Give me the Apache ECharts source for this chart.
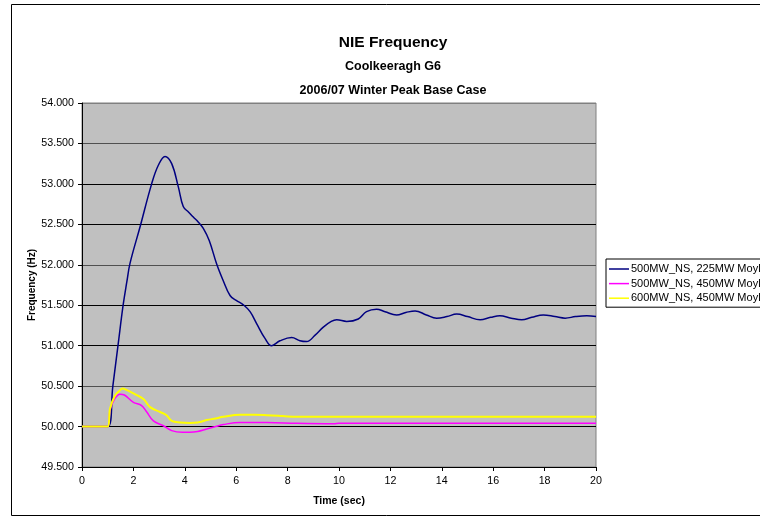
<!DOCTYPE html>
<html>
<head>
<meta charset="utf-8">
<script src="https://cdn.jsdelivr.net/npm/echarts@6/dist/echarts.min.js"></script>
<style>
html,body{margin:0;padding:0;background:#fff;}
#chart{width:760px;height:517px;}
</style>
</head>
<body>
<div id="chart"></div>
<script>
// ---- data ----
const seriesNames = ["500MW_NS, 225MW Moyle", "500MW_NS, 450MW Moyle", "600MW_NS, 450MW Moyle"];

const blueT = [0, 1.0, 1.2, 1.4, 1.6, 1.75, 1.87, 2.26, 2.71, 2.97, 3.23, 3.49, 3.75, 3.94, 4.15, 4.33, 4.52, 4.72, 4.95, 5.24, 5.5, 5.76, 6.0, 6.3, 6.54, 6.8, 7.12, 7.38, 7.7, 8.16, 8.48, 8.74, 9.07, 9.39, 9.7, 9.91, 10.3, 10.75, 11.07, 11.46, 11.79, 12.24, 12.6, 12.96, 13.4, 13.8, 14.2, 14.58, 15.0, 15.49, 15.9, 16.26, 16.7, 17.11, 17.5, 17.95, 18.4, 18.8, 19.2, 19.64, 20];
const blueF = [50.0, 50.0, 50.5, 51.0, 51.5, 51.8, 52.02, 52.47, 53.0, 53.23, 53.34, 53.25, 52.96, 52.72, 52.65, 52.59, 52.53, 52.45, 52.3, 52.01, 51.8, 51.62, 51.56, 51.5, 51.42, 51.27, 51.09, 51.0, 51.06, 51.1, 51.06, 51.05, 51.13, 51.23, 51.3, 51.32, 51.3, 51.33, 51.42, 51.45, 51.42, 51.38, 51.41, 51.43, 51.38, 51.34, 51.36, 51.39, 51.36, 51.32, 51.35, 51.37, 51.34, 51.32, 51.35, 51.38, 51.36, 51.34, 51.36, 51.37, 51.36];

const magT = [0, 1.0, 1.09, 1.25, 1.48, 1.65, 2.0, 2.32, 2.52, 2.78, 3.17, 3.49, 3.9, 4.2, 4.5, 4.85, 5.2, 5.5, 6.15, 7.19, 8.35, 9.8, 10, 12, 14, 16, 18, 20];
const magF = [50.0, 50.0, 50.2, 50.33, 50.40, 50.39, 50.30, 50.26, 50.18, 50.07, 50.01, 49.95, 49.93, 49.93, 49.94, 49.97, 50.0, 50.025, 50.05, 50.05, 50.04, 50.035, 50.04, 50.04, 50.04, 50.04, 50.04, 50.04];

const yelT = [0, 1.0, 1.09, 1.28, 1.45, 1.58, 1.75, 2.06, 2.39, 2.65, 3.04, 3.29, 3.49, 3.81, 4.2, 4.5, 4.85, 5.2, 5.5, 6.15, 6.7, 7.19, 7.8, 8.35, 10, 12, 14, 16, 18, 20];
const yelF = [50.0, 50.0, 50.22, 50.38, 50.44, 50.47, 50.45, 50.40, 50.34, 50.24, 50.18, 50.14, 50.07, 50.05, 50.045, 50.05, 50.08, 50.1, 50.12, 50.145, 50.145, 50.14, 50.13, 50.12, 50.12, 50.12, 50.12, 50.12, 50.12, 50.12];

const yMin = 49.5, yMax = 54.0, yStep = 0.5;
const xMin = 0, xMax = 20, xStep = 2;

function pairs(t, f) { return t.map((v, i) => [v, f[i]]); }

const FONT = '"Liberation Sans", Arial, sans-serif';
const chart = echarts.init(document.getElementById('chart'), null, {renderer: 'canvas'});

const option = {
  animation: false,
  backgroundColor: '#fff',
  textStyle: {fontFamily: FONT},
  graphic: [{
    type: 'rect', silent: true, z: -1,
    shape: {x: 11.5, y: 4.5, width: 800, height: 511},
    style: {fill: 'none', stroke: '#000', lineWidth: 1}
  }],
  title: [
    {text: 'NIE Frequency', left: 393, top: 34, textAlign: 'center', padding: 0,
     textStyle: {fontFamily: FONT, fontSize: 15.5, fontWeight: 'bold', color: '#000', lineHeight: 17}},
    {text: 'Coolkeeragh G6', left: 393, top: 60, textAlign: 'center', padding: 0,
     textStyle: {fontFamily: FONT, fontSize: 12.5, fontWeight: 'bold', color: '#000', lineHeight: 14}},
    {text: '2006/07 Winter Peak Base Case', left: 393, top: 84, textAlign: 'center', padding: 0,
     textStyle: {fontFamily: FONT, fontSize: 12.5, fontWeight: 'bold', color: '#000', lineHeight: 14}}
  ],
  legend: {
    orient: 'vertical', left: 606, top: 259,
    padding: [4, 40, 3, 3],
    itemGap: 2.6, itemWidth: 20, itemHeight: 1.5,
    icon: 'rect',
    borderColor: '#000', borderWidth: 1, backgroundColor: '#fff',
    textStyle: {fontFamily: FONT, fontSize: 11, color: '#000', lineHeight: 12, padding: [0,0,0,-3]},
    data: seriesNames
  },
  grid: {
    left: 82, top: 103, width: 514, height: 364,
    show: true, backgroundColor: '#C0C0C0', borderColor: '#808080', borderWidth: 1
  },
  xAxis: {
    type: 'value', min: xMin, max: xMax, interval: xStep,
    name: 'Time (sec)', nameLocation: 'middle', nameGap: 29, nameMoveOverlap: false,
    nameTextStyle: {fontFamily: FONT, fontSize: 10.5, fontWeight: 'bold', color: '#000'},
    axisLine: {show: true, lineStyle: {color: '#000', width: 1}},
    axisTick: {show: true, inside: false, length: 4, lineStyle: {color: '#000'}},
    axisLabel: {margin: 9, fontFamily: FONT, fontSize: 10.7, color: '#000'},
    splitLine: {show: false}
  },
  yAxis: {
    type: 'value', min: yMin, max: yMax, interval: yStep,
    name: 'Frequency (Hz)', nameLocation: 'middle', nameGap: 45, nameRotate: 90, nameMoveOverlap: false,
    nameTextStyle: {fontFamily: FONT, fontSize: 10, fontWeight: 'bold', color: '#000'},
    axisLine: {show: true, lineStyle: {color: '#000', width: 1}},
    axisTick: {show: true, inside: false, length: 4, lineStyle: {color: '#000'}},
    axisLabel: {margin: 8, fontFamily: FONT, fontSize: 10.7, color: '#000',
      formatter: v => v.toFixed(3)},
    splitLine: {show: true, lineStyle: {width: 1,
      color: ['#000', '#000', '#505050', '#000', '#000', '#505050', '#000', '#000', '#505050', '#808080']}}
  },
  series: [
    {name: seriesNames[0], type: 'line', data: pairs(blueT, blueF), symbol: 'none', showSymbol: false,
     smooth: 0.4, color: '#000080', lineStyle: {color: '#000080', width: 1.5}},
    {name: seriesNames[1], type: 'line', data: pairs(magT, magF), symbol: 'none', showSymbol: false,
     smooth: 0.4, color: '#FF00FF', lineStyle: {color: '#FF00FF', width: 1.5}},
    {name: seriesNames[2], type: 'line', data: pairs(yelT, yelF), symbol: 'none', showSymbol: false,
     smooth: 0.4, color: '#FFFF00', lineStyle: {color: '#FFFF00', width: 2}}
  ]
};
chart.setOption(option);
</script>
</body>
</html>
